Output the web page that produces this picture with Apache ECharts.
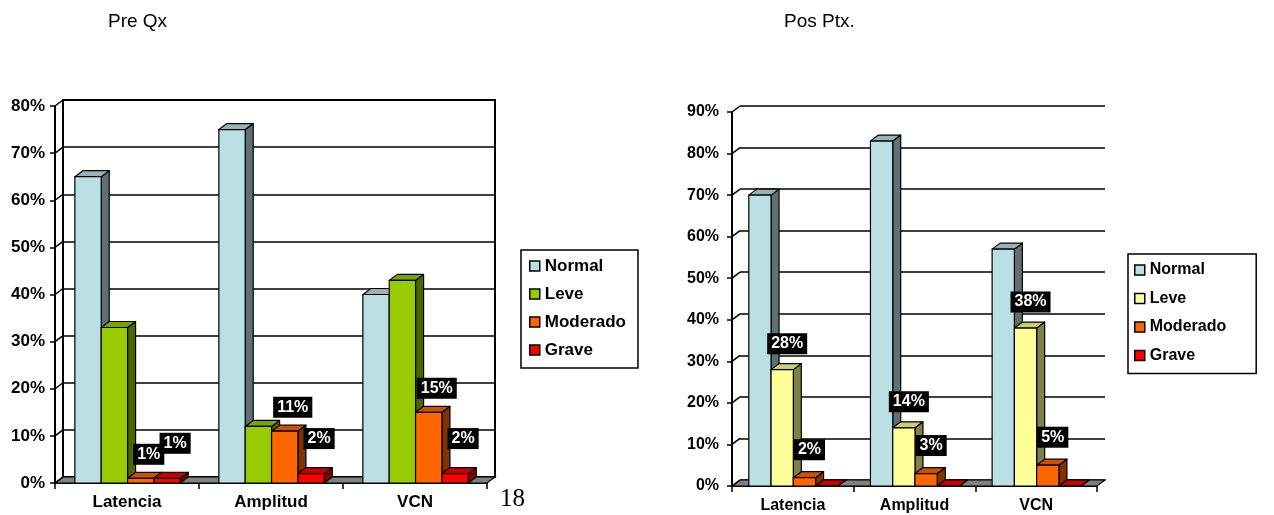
<!DOCTYPE html>
<html>
<head>
<meta charset="utf-8">
<script src="https://cdn.jsdelivr.net/npm/echarts@6/dist/echarts.min.js"></script>
<style>
  html, body { margin: 0; padding: 0; background: #fff; }
  #pre { position: absolute; left: 0; top: 0; width: 660px; height: 515px; }
  #pos { position: absolute; left: 660px; top: 0; width: 614px; height: 515px; }
</style>
</head>
<body>
<div id="pre"></div>
<div id="pos"></div>
<script>
// ---- data ----
const categories = ['Latencia', 'Amplitud', 'VCN'];
const seriesNames = ['Normal', 'Leve', 'Moderado', 'Grave'];

// Pre Qx (%)
const preNormal = [65, 75, 40];
const preLeve = [33, 12, 43];
const preModerado = [1, 11, 15];
const preGrave = [1, 2, 2];
const preTicks = [0, 10, 20, 30, 40, 50, 60, 70, 80];

// Pos Ptx. (%)
const posNormal = [70, 83, 57];
const posLeve = [28, 14, 38];
const posModerado = [2, 3, 5];
const posGrave = [0, 0, 0];
const posTicks = [0, 10, 20, 30, 40, 50, 60, 70, 80, 90];

// ---- styling ----
const FONT = "'Liberation Sans', Arial, Helvetica, sans-serif";
const GROUP_OFFSET = 0.138;   // gap before the first bar, as a share of the band
const PITCH = 0.183;          // width of one bar, as a share of the band

const shades = {
  normal:   { front: '#BBE0E3', top: '#96B3B6', side: '#5E7072' },
  leveG:    { front: '#99CC00', top: '#7AA300', side: '#4C6600' },
  leveY:    { front: '#FFFF99', top: '#CCCC7A', side: '#80804C' },
  moderado: { front: '#FF6600', top: '#CC5200', side: '#803300' },
  grave:    { front: '#FF0000', top: '#CC0000', side: '#800000' }
};

function barRenderer(k, col, depth) {
  return function (params, api) {
    const idx = api.value(0);
    const val = api.value(1);
    const band = api.size([1, 0])[0];
    const top = api.coord([idx, val]);
    const base = api.coord([idx, 0]);
    const w = band * PITCH;
    const x0 = top[0] - band / 2 + band * GROUP_OFFSET + k * w;
    const x1 = x0 + w;
    const yT = top[1], yB = base[1];
    const dx = depth[0], dy = depth[1];
    const line = { stroke: '#000', lineWidth: 1.2, lineJoin: 'round' };
    return {
      type: 'group',
      children: [
        { type: 'polygon', shape: { points: [[x1, yB], [x1, yT], [x1 + dx, yT + dy], [x1 + dx, yB + dy]] },
          style: Object.assign({ fill: col.side }, line) },
        { type: 'polygon', shape: { points: [[x0, yT], [x0 + dx, yT + dy], [x1 + dx, yT + dy], [x1, yT]] },
          style: Object.assign({ fill: col.top }, line) },
        { type: 'rect', shape: { x: x0, y: yT, width: w, height: yB - yT },
          style: Object.assign({ fill: col.front }, line) }
      ]
    };
  };
}

function labelRenderer(k, off, font) {
  return function (params, api) {
    const idx = api.value(0);
    const val = api.value(1);
    const band = api.size([1, 0])[0];
    const top = api.coord([idx, val]);
    const w = band * PITCH;
    const cx = top[0] - band / 2 + band * GROUP_OFFSET + k * w + w / 2;
    return {
      type: 'text',
      style: {
        x: cx + off[0], y: top[1] + off[1],
        text: val + '%',
        fill: '#fff', backgroundColor: '#000', padding: [3, 4, 2, 4],
        font: font, align: 'center', verticalAlign: 'middle'
      }
    };
  };
}

function buildChart(el, cfg) {
  const chart = echarts.init(document.getElementById(el), null, { renderer: 'canvas' });
  const ticks = cfg.ticks;
  const dx = cfg.depth[0], dy = cfg.depth[1];
  const axisText = { fontFamily: FONT, fontWeight: 'bold', fontSize: cfg.fontSize, color: '#000' };

  const series = [];

  // floor of the box
  series.push({
    type: 'custom', name: 'floor', xAxisIndex: 0, yAxisIndex: 0, z: 2,
    data: [[0, 0]],
    renderItem: function (params, api) {
      const band = api.size([1, 0])[0];
      const a = api.coord([0, 0]);
      const b = api.coord([categories.length - 1, 0]);
      const x0 = a[0] - band / 2, x1 = b[0] + band / 2, y = a[1];
      return { type: 'polygon', shape: { points: [[x0, y], [x1, y], [x1 + dx, y + dy], [x0 + dx, y + dy]] },
        style: { fill: '#808080', stroke: '#000', lineWidth: 1.2 } };
    }
  });

  // short slanted lines joining the value ticks to the back wall
  series.push({
    type: 'custom', name: 'wall', xAxisIndex: 0, yAxisIndex: 0, z: 2,
    data: ticks.map(function (v) { return [0, v]; }),
    renderItem: function (params, api) {
      const band = api.size([1, 0])[0];
      const p = api.coord([0, api.value(1)]);
      const x0 = p[0] - band / 2;
      return { type: 'line', shape: { x1: x0, y1: p[1], x2: x0 + dx, y2: p[1] + dy },
        style: { stroke: '#000', lineWidth: 1.5 } };
    }
  });

  cfg.values.forEach(function (vals, k) {
    series.push({
      type: 'custom', name: seriesNames[k], xAxisIndex: 0, yAxisIndex: 0, z: 3,
      itemStyle: { color: cfg.colors[k].front },
      data: vals.map(function (v, i) { return [i, v]; }),
      renderItem: barRenderer(k, cfg.colors[k], cfg.depth)
    });
  });

  cfg.values.forEach(function (vals, k) {
    if (!cfg.labelOffsets[k]) return;
    series.push({
      type: 'custom', name: 'lbl-' + seriesNames[k], xAxisIndex: 0, yAxisIndex: 0, z: 5,
      data: vals.map(function (v, i) { return [i, v]; }),
      renderItem: labelRenderer(k, cfg.labelOffsets[k], cfg.labelFont)
    });
  });

  const yRange = { min: ticks[0], max: ticks[ticks.length - 1], interval: ticks[1] - ticks[0] };

  chart.setOption({
    animation: false,
    backgroundColor: '#fff',
    title: {
      text: cfg.title, left: cfg.titleLeft, top: 12, padding: 0,
      textStyle: { fontFamily: FONT, fontWeight: 'normal', fontSize: 19, color: '#000' }
    },
    legend: {
      orient: 'vertical', left: cfg.legend.left, top: cfg.legend.top,
      data: seriesNames, selectedMode: false,
      borderColor: '#000', borderWidth: 1.5, padding: cfg.legend.padding,
      itemWidth: 10, itemHeight: 10, itemGap: cfg.legend.gap, icon: 'rect',
      itemStyle: { borderColor: '#000', borderWidth: 1.5 },
      textStyle: { fontFamily: FONT, fontWeight: 'bold', fontSize: cfg.legend.fontSize, lineHeight: 18, color: '#000' }
    },
    graphic: cfg.graphic || [],
    grid: [
      Object.assign({ containLabel: false }, cfg.front),
      Object.assign({ containLabel: false, show: cfg.frame, borderColor: '#000', borderWidth: 2, backgroundColor: 'transparent' },
        { left: cfg.front.left + dx, top: cfg.front.top + dy, width: cfg.front.width, height: cfg.front.height })
    ],
    xAxis: [
      {
        type: 'category', gridIndex: 0, data: categories, boundaryGap: true,
        axisLine: { show: true, lineStyle: { color: '#000', width: 2 } },
        axisTick: { show: true, length: 6, interval: 0, lineStyle: { color: '#000', width: 1.5 } },
        axisLabel: Object.assign({ margin: cfg.xLabelMargin, interval: 0 }, axisText),
        splitLine: { show: false }
      },
      {
        type: 'category', gridIndex: 1, data: categories, boundaryGap: true, show: false
      }
    ],
    yAxis: [
      Object.assign({
        type: 'value', gridIndex: 0,
        axisLine: { show: true, lineStyle: { color: '#000', width: 2 } },
        axisTick: { show: true, length: 5, lineStyle: { color: '#000', width: 1.5 } },
        axisLabel: Object.assign({ margin: cfg.yLabelMargin, formatter: '{value}%' }, axisText),
        splitLine: { show: false }
      }, yRange),
      Object.assign({
        type: 'value', gridIndex: 1,
        axisLine: { show: false }, axisTick: { show: false }, axisLabel: { show: false },
        splitLine: { show: true, lineStyle: { color: '#000', width: 1.5 } }
      }, yRange)
    ],
    series: series
  });
  return chart;
}

buildChart('pre', {
  title: 'Pre Qx', titleLeft: 108,
  ticks: preTicks,
  values: [preNormal, preLeve, preModerado, preGrave],
  colors: [shades.normal, shades.leveG, shades.moderado, shades.grave],
  labelOffsets: [null, null, [8, -24], [8, -35]],
  labelFont: 'bold 16px ' + FONT,
  fontSize: 17,
  depth: [8, -6],
  front: { left: 55, top: 106, width: 432, height: 377 },
  frame: true,
  xLabelMargin: 11,
  yLabelMargin: 10,
  legend: { left: 521, top: 250, padding: [7, 12, 9, 8], gap: 10, fontSize: 17 },
  graphic: [{
    type: 'text', left: 500, top: 487,
    style: { text: '18', font: "25px 'Liberation Serif', 'Times New Roman', serif", fill: '#000' }
  }]
});

buildChart('pos', {
  title: 'Pos Ptx.', titleLeft: 124,
  ticks: posTicks,
  values: [posNormal, posLeve, posModerado, posGrave],
  colors: [shades.normal, shades.leveY, shades.moderado, shades.grave],
  labelOffsets: [null, [5, -26], [5, -28], null],
  labelFont: 'bold 16px ' + FONT,
  fontSize: 16,
  depth: [8, -6],
  front: { left: 72, top: 112, width: 365, height: 374 },
  frame: false,
  xLabelMargin: 12,
  yLabelMargin: 13,
  legend: { left: 468, top: 254, padding: [7, 30, 9, 6], gap: 10.5, fontSize: 16 }
});
</script>
</body>
</html>
